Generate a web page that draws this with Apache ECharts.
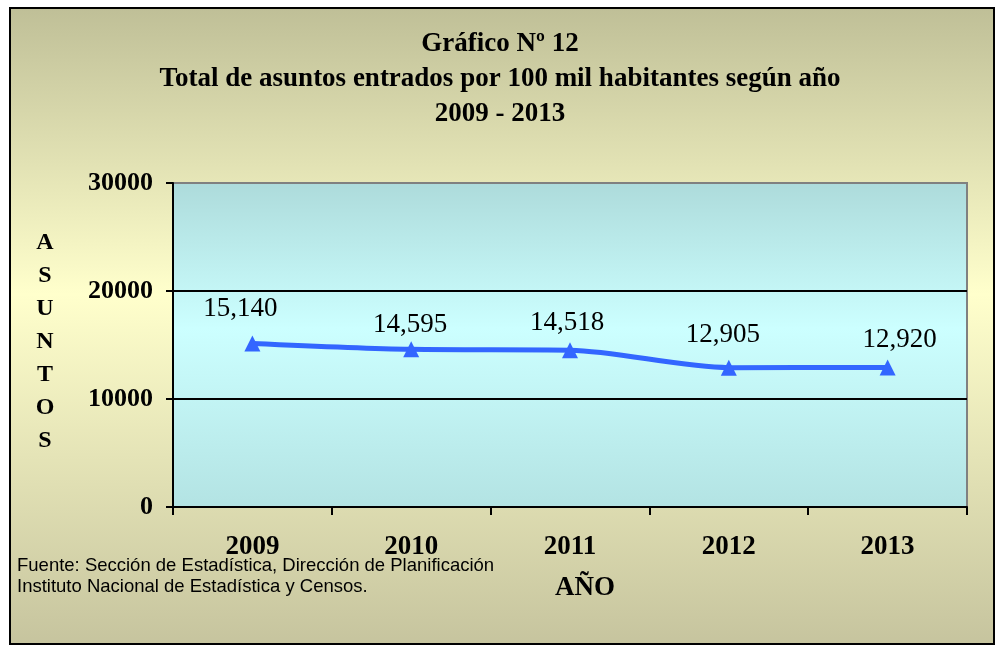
<!DOCTYPE html>
<html><head><meta charset="utf-8">
<script src="https://cdn.jsdelivr.net/npm/echarts@6/dist/echarts.min.js"></script>
<style>html,body{margin:0;padding:0;background:#fff}#c{width:1002px;height:652px}</style>
</head><body><div id="c"></div>
<script>
const categories = ['2009','2010','2011','2012','2013'];
const values = [15140, 14595, 14518, 12905, 12920];
const labelOffsets = [[-12,1],[-1,11],[-3,8],[-6,3],[12,8]];
const yTicks = [0, 10000, 20000, 30000];
const titleLines = ['Gráfico Nº 12','Total de asuntos entrados por 100 mil habitantes según año','2009 - 2013'];
const yAxisTitle = ['A','S','U','N','T','O','S'];
const xAxisTitle = 'AÑO';
const sourceLines = ['Fuente: Sección de Estadística, Dirección de Planificación','Instituto Nacional de Estadística y Censos.'];

const chart = echarts.init(document.getElementById('c'));
const serif = '"Liberation Serif","Times New Roman",serif';
const graphics = [
  {type:'rect', z:-10, shape:{x:10,y:8,width:984,height:636},
   style:{fill:new echarts.graphic.LinearGradient(0,0,0,1,[
     {offset:0,color:'#bfbf97'},{offset:0.45,color:'#ffffcc'},{offset:1,color:'#c6c49e'}]),
     stroke:'#000',lineWidth:2}}
];
titleLines.forEach((t,i)=>graphics.push({type:'text',x:500,y:44+i*35,
  style:{text:t,font:'bold 27px '+serif,fill:'#000',align:'center',verticalAlign:'middle'}}));
yAxisTitle.forEach((t,i)=>graphics.push({type:'text',x:45,y:243+i*33,
  style:{text:t,font:'bold 24px '+serif,fill:'#000',align:'center',verticalAlign:'middle'}}));
graphics.push({type:'text',x:585,y:588,style:{text:xAxisTitle,font:'bold 27px '+serif,fill:'#000',align:'center',verticalAlign:'middle'}});
sourceLines.forEach((t,i)=>graphics.push({type:'text',x:17,y:566+i*21,
  style:{text:t,font:'18.5px "Liberation Sans",Arial,sans-serif',fill:'#000',align:'left',verticalAlign:'middle'}}));

chart.setOption({
  animation:false,
  graphic:graphics,
  grid:{left:173,right:35,top:183,bottom:145,show:true,
    backgroundColor:new echarts.graphic.LinearGradient(0,0,0,1,[
      {offset:0,color:'#addbdb'},{offset:0.45,color:'#ccffff'},{offset:1,color:'#b3e3e3'}]),
    borderColor:'#808080',borderWidth:2},
  xAxis:{type:'category',data:categories,boundaryGap:true,
    axisLine:{lineStyle:{color:'#000',width:2}},
    axisTick:{show:true,length:8,lineStyle:{color:'#000',width:2}},
    axisLabel:{color:'#000',fontFamily:serif,fontWeight:'bold',fontSize:27,margin:27}},
  yAxis:{type:'value',min:yTicks[0],max:yTicks[yTicks.length-1],interval:10000,
    axisLine:{show:true,lineStyle:{color:'#000',width:2}},
    axisTick:{show:true,length:7,lineStyle:{color:'#000',width:2}},
    splitLine:{show:true,showMaxLine:false,lineStyle:{color:'#000',width:2}},
    axisLabel:{color:'#000',fontFamily:serif,fontWeight:'bold',fontSize:26,margin:20,formatter:v=>String(v)}},
  series:[{type:'line',data:values.map((v,i)=>({value:v,label:{offset:labelOffsets[i]}})),
    smooth:0.3,symbol:'triangle',symbolSize:16,
    lineStyle:{color:'#3366ff',width:5},itemStyle:{color:'#3366ff'},
    label:{show:true,position:'top',distance:14,color:'#000',fontFamily:serif,fontSize:27,
      formatter:p=>p.value.toLocaleString('en-US')}}]
});
</script></body></html>
